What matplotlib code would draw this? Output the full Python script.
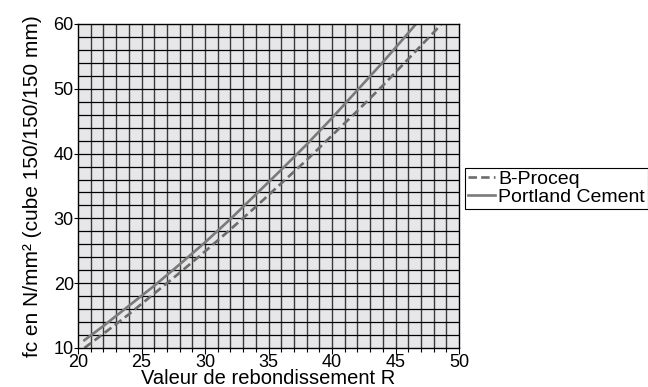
import numpy as np
import matplotlib
matplotlib.use('Agg')
import matplotlib.pyplot as plt

plt.rcParams['font.family'] = ['Liberation Sans', 'DejaVu Sans']

# rebound value R and cube strength fc (N/mm2)
r_proceq = [20.5, 22, 24, 26, 28, 30, 32, 34, 36, 38, 40, 42, 44, 46, 48, 49]
fc_proceq = [10.0, 12.2, 15.2, 18.4, 21.6, 24.9, 28.3, 31.8, 35.4, 39.0, 42.8,
             46.6, 50.5, 54.6, 58.7, 60.8]

r_portland = [20.5, 22, 24, 26, 28, 30, 32, 34, 36, 38, 40, 42, 44, 46, 47]
fc_portland = [11.2, 13.4, 16.5, 19.6, 22.9, 26.3, 29.9, 33.7, 37.5, 41.4, 45.5,
               49.8, 54.1, 58.6, 60.9]

x_ticks = [20, 25, 30, 35, 40, 45, 50]
y_ticks = [10, 20, 30, 40, 50, 60]

fig = plt.figure(figsize=(6.48, 3.87), dpi=100)
ax = fig.add_axes([0.1204, 0.1008, 0.588, 0.8372])
ax.set_facecolor('#e7e7e9')

# graph-paper grid
for x in np.arange(21, 50, 1):
    ax.axvline(x, color='#3a3a3a', lw=1.0, zorder=1)
for y in np.arange(12, 60, 2):
    ax.axhline(y, color='black', lw=0.9, zorder=1)

ax.plot(r_proceq, fc_proceq, color='#6c6c6c', lw=1.9,
        linestyle=(0, (3.2, 1.6)), label='B-Proceq', zorder=3)
ax.plot(r_portland, fc_portland, color='#7a7a7a', lw=1.9,
        label='Portland Cement', zorder=3)

ax.set_xlim(20, 50)
ax.set_ylim(10, 60)
ax.set_xticks(x_ticks)
ax.set_yticks(y_ticks)
ax.set_xticks(np.arange(20, 51, 1), minor=True)
ax.tick_params(axis='x', which='major', length=4, width=0.8, pad=0, labelsize=13)
ax.tick_params(axis='x', which='minor', length=3, width=0.8)
ax.tick_params(axis='y', length=3, width=0.8, pad=0, labelsize=13)
for s in ax.spines.values():
    s.set_linewidth(1.0)
    s.set_zorder(4)

ax.set_xlabel('Valeur de rebondissement R', fontsize=14.5, labelpad=-1)
ax.set_ylabel('fc en N/mm² (cube 150/150/150 mm)', fontsize=15, labelpad=8)

leg = ax.legend(loc='upper left', bbox_to_anchor=(0.7176, 0.5667),
                bbox_transform=fig.transFigure, borderaxespad=0, fontsize=14,
                frameon=True, fancybox=False, edgecolor='black', framealpha=1,
                borderpad=0.15, labelspacing=0.0, handlelength=1.4,
                handletextpad=0.15)
leg.get_frame().set_linewidth(0.8)

fig.savefig('out.png', dpi=100)
